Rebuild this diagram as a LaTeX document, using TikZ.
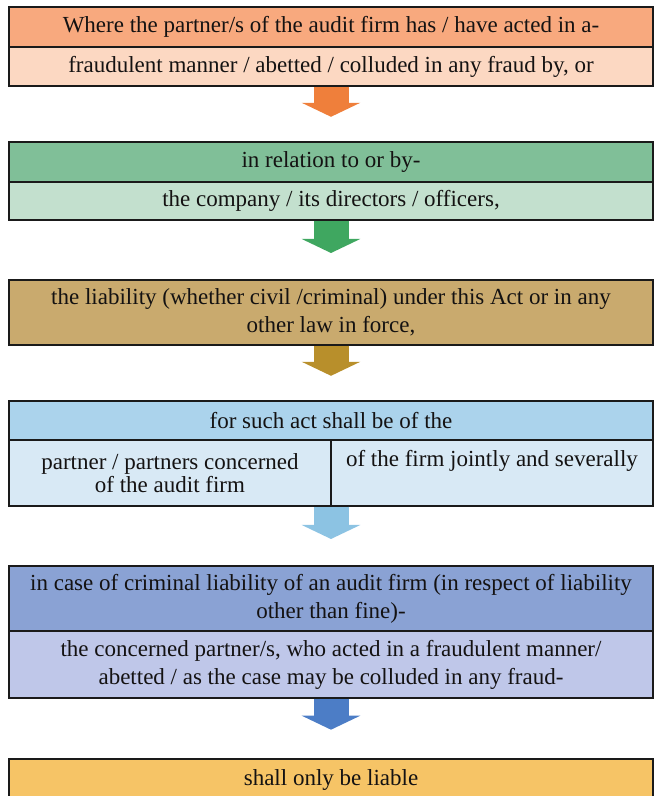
\documentclass[tikz,border=0pt]{standalone}
\usepackage{fontspec}
\setmainfont{Liberation Serif}
\usetikzlibrary{positioning,arrows.meta,calc}
\definecolor{ink}{HTML}{141212}
\definecolor{edge}{HTML}{1A1A1A}
\definecolor{orgA}{HTML}{F8A97E}
\definecolor{orgB}{HTML}{FCD8C2}
\definecolor{orgC}{HTML}{EF7F3B}
\definecolor{grnA}{HTML}{80BF98}
\definecolor{grnB}{HTML}{C3E0CE}
\definecolor{grnC}{HTML}{3FA760}
\definecolor{tanA}{HTML}{C9AA6E}
\definecolor{tanC}{HTML}{B88F2B}
\definecolor{bluA}{HTML}{ABD3EC}
\definecolor{bluB}{HTML}{D8E9F5}
\definecolor{bluC}{HTML}{8CC3E3}
\definecolor{indA}{HTML}{8AA2D4}
\definecolor{indB}{HTML}{BFC7E9}
\definecolor{indC}{HTML}{4C7DC6}
\definecolor{gldA}{HTML}{F6C466}
\tikzset{
  row/.style={draw=edge, line width=1.4pt, fill=#1, outer sep=0pt, inner sep=0pt,
              minimum width=644pt, align=center, text=ink,
              font=\fontsize{23}{28}\selectfont},
  cell/.style={row=#1, minimum width=322pt, font=\fontsize{23}{23}\selectfont},
  down/.style={line width=35pt, draw=#1, -{Triangle[width=58pt,length=14pt]}},
}

\begin{document}
\begin{tikzpicture}[x=1pt,y=1pt]
  \useasboundingbox (0,0) rectangle (656,796);
  % who acted
  \node[row=orgA, minimum height=40pt] (r1a) at (331,769) {Where the partner/s of the audit firm has / have acted in a-};
  \node[row=orgB, minimum height=39pt, below=0pt of r1a] (r1b) {fraudulent manner / abetted / colluded in any fraud by, or};
  % against whom
  \node[row=grnA, minimum height=40pt, below=56pt of r1b] (r2a) {in relation to or by-};
  \node[row=grnB, minimum height=38pt, below=0pt of r2a] (r2b) {the company / its directors / officers,};
  \node[row=tanA, minimum height=65pt, below=60pt of r2b] (r3) {the liability (whether civil /criminal) under this Act or in any\\other law in force,};
  % split row
  \node[row=bluA, minimum height=39pt, below=56pt of r3] (r4a) {for such act shall be of the};
  \node[cell=bluB, minimum height=66pt, below right=0pt and 0pt of r4a.south west] (r4l) {partner / partners concerned\\of the audit firm};
  \node[cell=bluB, minimum height=66pt, right=0pt of r4l] (r4r) {of the firm jointly and severally\\\strut};
  % criminal case
  \node[row=indA, minimum height=65pt, anchor=north] (r5a) at ($(r4l.south east)+(0,-60)$) {in case of criminal liability of an audit firm (in respect of liability\\other than fine)-};
  \node[row=indB, minimum height=67pt, below=0pt of r5a] (r5b) {the concerned partner/s, who acted in a fraudulent manner/\\abetted / as the case may be colluded in any fraud-};
  \node[row=gldA, minimum height=42pt, below=61pt of r5b] (r6) {shall only be liable};

  \draw[down=orgC] ([yshift=-.7pt]r1b.south) -- ($(r1b.south)!.55!(r2a.north)$);
  \draw[down=grnC] ([yshift=-.7pt]r2b.south) -- ($(r2b.south)!.55!(r3.north)$);
  \draw[down=tanC] ([yshift=-.7pt]r3.south) -- ($(r3.south)!.55!(r4a.north)$);
  \draw[down=bluC] ([yshift=-.7pt]r4l.south east) -- ($(r4l.south east)!.55!(r5a.north)$);
  \draw[down=indC] ([yshift=-.7pt]r5b.south) -- ($(r5b.south)!.52!(r6.north)$);
\end{tikzpicture}
\end{document}
